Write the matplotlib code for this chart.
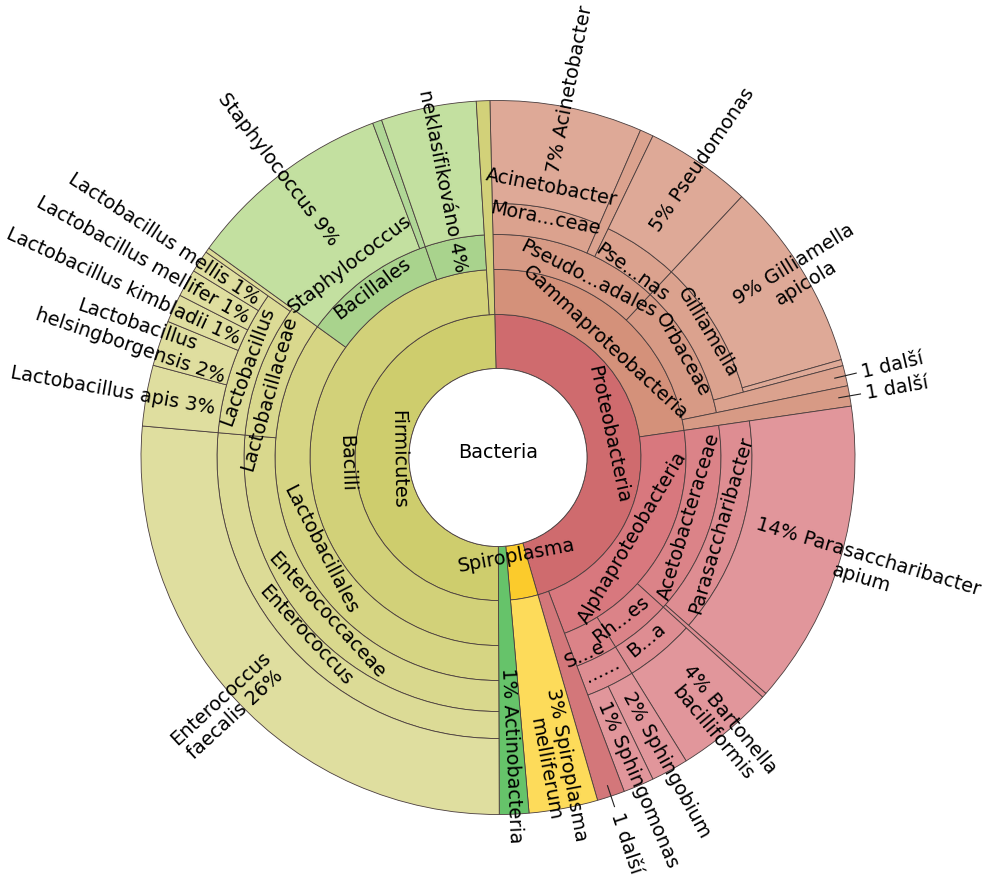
import matplotlib
matplotlib.use("Agg")
import matplotlib.pyplot as plt
from matplotlib.patches import Wedge, Circle
from matplotlib.colors import to_rgb
import numpy as np

# Listy stromu ve směru hodinových ručiček od vrcholu: cesta uzlů, popisek listu, podíl (%)
leaf_paths = [
    ["Proteobacteria", "Gammaproteobacteria", "Pseudo...adales", "Mora...ceae", "Acinetobacter"],
    ["Proteobacteria", "Gammaproteobacteria", "Pseudo...adales", ""],
    ["Proteobacteria", "Gammaproteobacteria", "Pseudo...adales", "Pse...nas", ""],
    ["Proteobacteria", "Gammaproteobacteria", "Orbaceae", "Gilliamella", ""],
    ["Proteobacteria", "Gammaproteobacteria", "Orbaceae", "Gilliamella", ""],
    ["Proteobacteria", "Gammaproteobacteria", "Orbaceae", ""],
    ["Proteobacteria", "Gammaproteobacteria", ""],
    ["Proteobacteria", "Alphaproteobacteria", "Acetobacteraceae", "Parasaccharibacter", ""],
    ["Proteobacteria", "Alphaproteobacteria", "Acetobacteraceae", ""],
    ["Proteobacteria", "Alphaproteobacteria", "Rh...es", "B...a", ""],
    ["Proteobacteria", "Alphaproteobacteria", "S...e", "......", ""],
    ["Proteobacteria", "Alphaproteobacteria", "S...e", "......", ""],
    ["Proteobacteria", ""],
    ["Spiroplasma", ""],
    [""],
    ["Firmicutes", "Bacilli", "Lactobacillales", "Enterococcaceae", "Enterococcus", ""],
    ["Firmicutes", "Bacilli", "Lactobacillales", "Lactobacillaceae", "Lactobacillus", ""],
    ["Firmicutes", "Bacilli", "Lactobacillales", "Lactobacillaceae", "Lactobacillus", ""],
    ["Firmicutes", "Bacilli", "Lactobacillales", "Lactobacillaceae", "Lactobacillus", ""],
    ["Firmicutes", "Bacilli", "Lactobacillales", "Lactobacillaceae", "Lactobacillus", ""],
    ["Firmicutes", "Bacilli", "Lactobacillales", "Lactobacillaceae", "Lactobacillus", ""],
    ["Firmicutes", "Bacilli", "Lactobacillales", "Lactobacillaceae", ""],
    ["Firmicutes", "Bacilli", "Bacillales", "Staphylococcus"],
    ["Firmicutes", "Bacilli", "Bacillales", ""],
    ["Firmicutes", "Bacilli", "_neklasifikováno", ""],
    ["Firmicutes", ""],
]
leaf_labels = [
    "7% Acinetobacter",
    "",
    "5% Pseudomonas",
    "9% Gilliamella\napicola",
    "",
    "1 další",
    "1 další",
    "14% Parasaccharibacter\napium",
    "",
    "4% Bartonella\nbacilliformis",
    "2% Sphingobium",
    "1% Sphingomonas",
    "1 další",
    "3% Spiroplasma\nmelliferum",
    "1% Actinobacteria",
    "Enterococcus\nfaecalis 26%",
    "Lactobacillus apis 3%",
    "Lactobacillus\nhelsingborgensis 2%",
    "Lactobacillus kimbladii 1%",
    "Lactobacillus mellifer 1%",
    "Lactobacillus mellis 1%",
    "",
    "Staphylococcus 9%",
    "",
    "neklasifikováno 4%",
    "",
]
leaf_values = [
    6.89, 0.61, 4.81, 8.61, 0.28, 0.92, 0.92, 13.78, 0.22, 4.45, 1.69, 1.39, 1.25,
    3.11, 1.33,
    26.44, 2.75, 2.06, 1.28, 1.25, 1.0, 0.22, 9.31, 0.42, 4.31, 0.61,
]

# Vzhled
RADII = [89, 143, 188, 223, 254, 281, 357]
START = -1.3
FS = 13.9
EDGE = "#4a3d3d"
node_colors = {
    "Proteobacteria": "#cf6b6e",
    "Gammaproteobacteria": "#d4917a",
    "Alphaproteobacteria": "#d8787e",
    "Spiroplasma": "#fbcb2c",
    "Firmicutes": "#cecd6d",
    "Bacillales": "#a9d38d",
    "_neklasifikováno": "#a9d38d",
    "Staphylococcus": "#c3e0a0",
}
leaf_colors = {
    "3% Spiroplasma\nmelliferum": "#fddb5a",
    "1% Actinobacteria": "#66c36a",
    "neklasifikováno 4%": "#c3e0a0",
}
label_r = {
    "Spiroplasma": 99, "Firmicutes": 100, "Proteobacteria": 113, "Bacilli": 152,
    "Alphaproteobacteria": 156, "Gammaproteobacteria": 158, "Pseudo...adales": 201,
    "Acinetobacter": 276, "Pse...nas": 229, "Rh...es": 203, "S...e": 214,
    "B...a": 234, "......": 236, "Lactobacillaceae": 238, "Lactobacillus": 267,
}
label_shift = {
    "Pseudo...adales": 6, "Gammaproteobacteria": 2.5, "Proteobacteria": -3.5,
    "Pse...nas": 1.5, "Rh...es": 2.4, "S...e": 2.2, "B...a": 0.5,
    "Lactobacillaceae": -4.5,
}
radial_start = {
    "7% Acinetobacter": 291,
    "5% Pseudomonas": 277,
    "9% Gilliamella\napicola": 285,
    "14% Parasaccharibacter\napium": 266,
    "4% Bartonella\nbacilliformis": 281,
    "2% Sphingobium": 268,
    "1% Sphingomonas": 265,
    "3% Spiroplasma\nmelliferum": 236,
    "1% Actinobacteria": 209,
    "Enterococcus\nfaecalis 26%": 302,
    "Lactobacillus apis 3%": 287,
    "Lactobacillus\nhelsingborgensis 2%": 285,
    "Lactobacillus kimbladii 1%": 285,
    "Lactobacillus mellifer 1%": 286,
    "Lactobacillus mellis 1%": 287,
    "Staphylococcus 9%": 270,
    "neklasifikováno 4%": 190,
}


def lighten(c, f=0.08):
    r, g, b = to_rgb(c)
    return (r + (1 - r) * f, g + (1 - g) * f, b + (1 - b) * f)


# Sestavení uzlů z listů
total = sum(leaf_values)
nodes = []
open_nodes = {}
angle = START
for path, lab, val in zip(leaf_paths, leaf_labels, leaf_values):
    span = val / total * 360
    for d, name in enumerate(path):
        last = d == len(path) - 1
        key = tuple(path[: d + 1])
        prev = open_nodes.get(d)
        if not last and prev is not None and prev["key"] == key and not prev["leaf"]:
            prev["end"] = angle + span
            continue
        if name in node_colors:
            col = node_colors[name]
        elif last and lab in leaf_colors:
            col = leaf_colors[lab]
        elif d > 0:
            col = lighten(open_nodes[d - 1]["color"])
        else:
            col = "#cccccc"
        node = dict(name=name, depth=d + 1, start=angle, end=angle + span,
                    leaf=last, label=lab if last else "", key=key, color=col)
        nodes.append(node)
        open_nodes[d] = node
    for d in list(open_nodes):
        if d >= len(path):
            del open_nodes[d]
    angle += span

fig = plt.figure(figsize=(9.84, 8.79), dpi=100)
ax = fig.add_axes([0, 0, 1, 1])
ax.set_xlim(-498, 486)
ax.set_ylim(-420.5, 458.5)
ax.set_aspect("equal")
ax.axis("off")


def pol(r, t):
    t = np.radians(t)
    return r * np.sin(t), r * np.cos(t)


for n in nodes:
    r_in = RADII[n["depth"] - 1]
    r_out = RADII[-1] if n["leaf"] else RADII[n["depth"]]
    ax.add_patch(Wedge((0, 0), r_out, 90 - n["end"], 90 - n["start"], width=r_out - r_in,
                       facecolor=n["color"], edgecolor=EDGE, linewidth=0.6))

for n in nodes:
    mid = (n["start"] + n["end"]) / 2
    name = n["name"]
    if name and not name.startswith("_"):
        d = n["depth"]
        t = mid + label_shift.get(name, 0)
        top = np.cos(np.radians(t)) >= 0
        rot = -t if top else 180 - t
        r = label_r.get(name, (RADII[d - 1] + RADII[d]) / 2 + (6 if top else -6))
        x, y = pol(r, t)
        ax.text(x, y, name, fontsize=FS, rotation=rot, rotation_mode="anchor",
                ha="center", va="center")
    lab = n["label"]
    if lab:
        if 0 < mid % 360 < 180:
            rot, ha = 90 - mid, "left"
        else:
            rot, ha = 270 - mid, "right"
        if lab == "1 další":
            x0, y0 = pol(346, mid)
            x1, y1 = pol(368, mid)
            ax.plot([x0, x1], [y0, y1], color="#222222", lw=0.8)
            r0 = 374
        else:
            r0 = radial_start.get(lab, RADII[n["depth"] - 1] + 20)
        x, y = pol(r0, mid)
        ax.text(x, y, lab, fontsize=FS, rotation=rot, rotation_mode="anchor",
                ha=ha, va="center", multialignment="center")

ax.add_patch(Circle((0, 0), RADII[0], facecolor="white", edgecolor=EDGE, linewidth=0.6))
ax.text(0, 6, "Bacteria", fontsize=FS, ha="center", va="center")

fig.savefig("out.png", dpi=100)
